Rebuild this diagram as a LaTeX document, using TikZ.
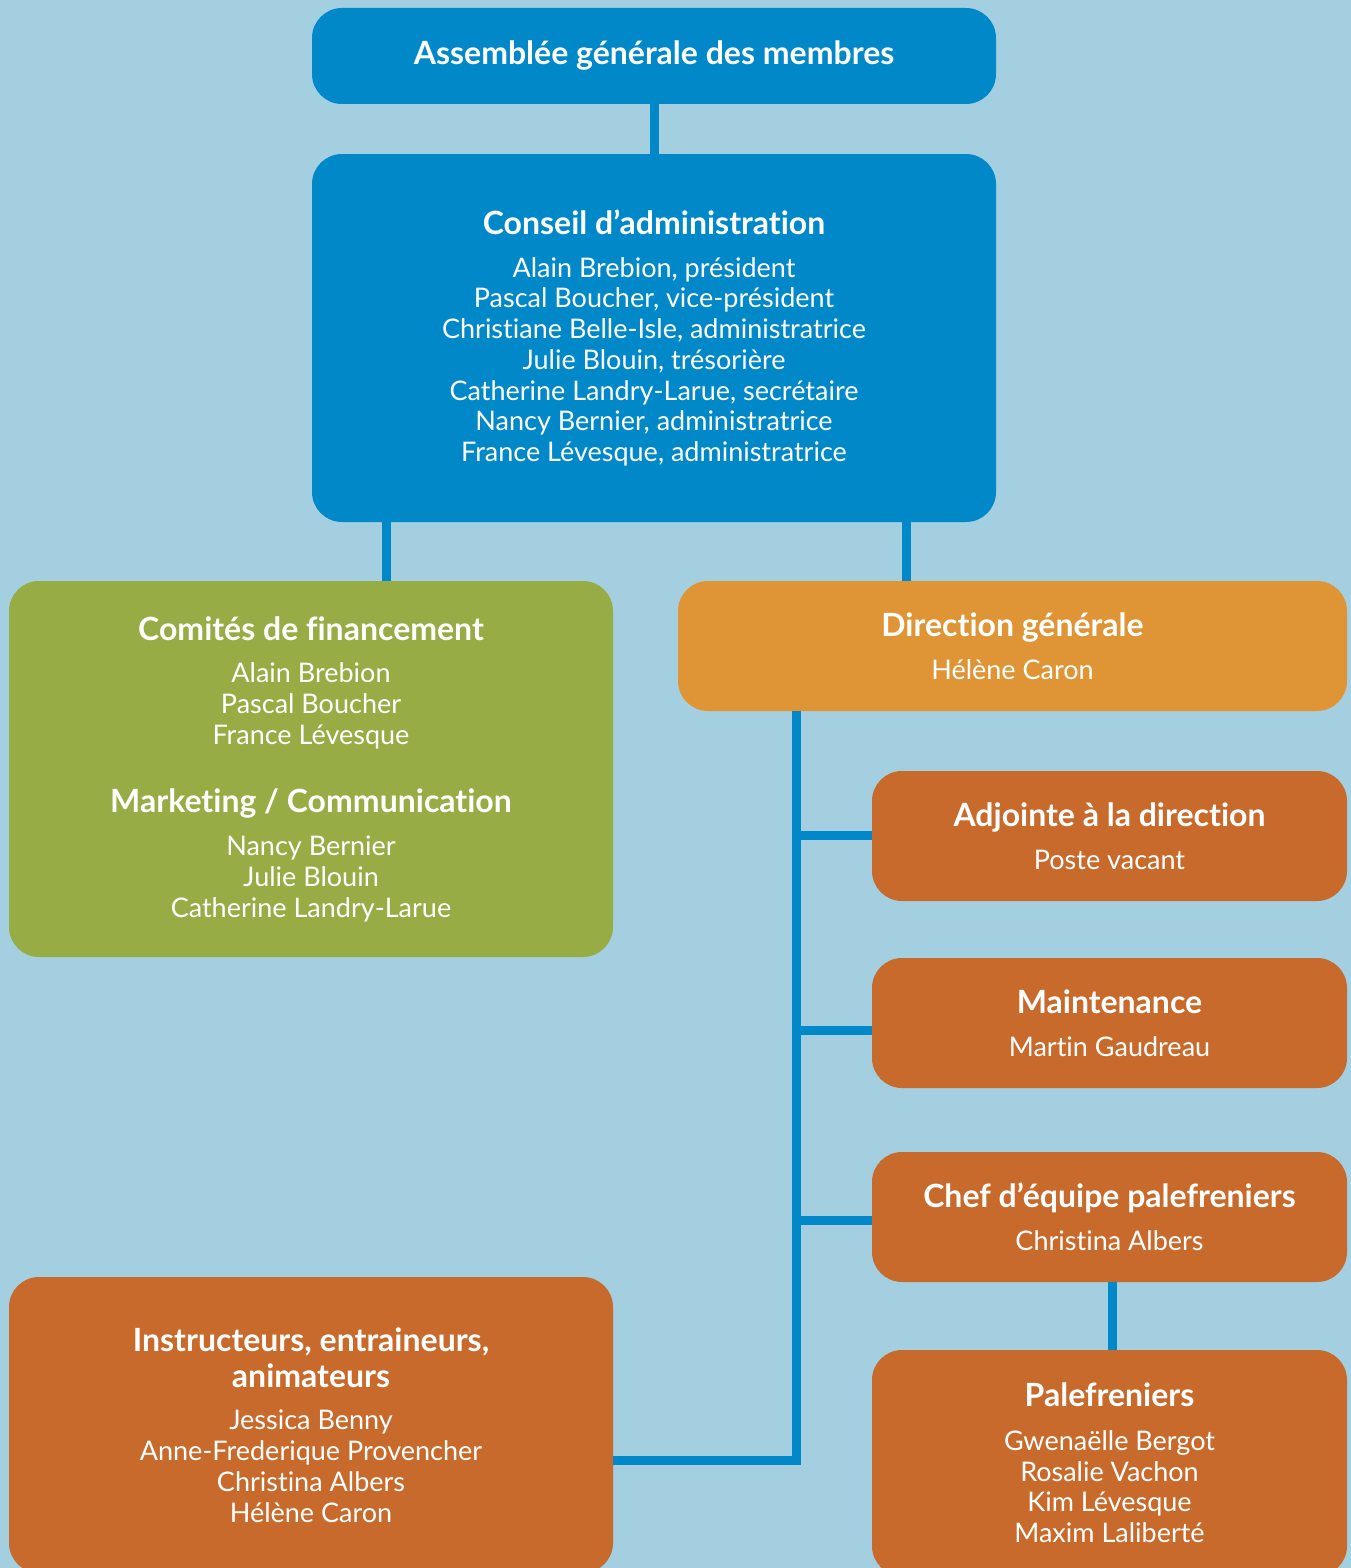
\documentclass[tikz,border=0pt]{standalone}
\usepackage{fontspec}
\setmainfont{Lato}[Ligatures=NoCommon]
\definecolor{bg}{HTML}{A3CFE1}
\definecolor{cblue}{HTML}{0088C8}
\definecolor{cgreen}{HTML}{97AC45}
\definecolor{corange}{HTML}{DF9535}
\definecolor{crust}{HTML}{C86A2B}
\newcommand\namefont{\fontsize{27}{30.7}\selectfont}
\newcommand\ttl[1]{{\fontsize{32}{36}\selectfont\bfseries #1}}
\begin{document}
\begin{tikzpicture}[x=1pt,y=-1pt,
  box/.style={rounded corners=30pt, inner sep=0pt, text=white, align=center, font=\namefont},
  conn/.style={draw=cblue, line width=9pt}]
\useasboundingbox (0,0) rectangle (1351,1568);
\clip (0,0) rectangle (1351,1568);
\fill[bg] (0,0) rectangle (1351,1568);

\node[box, fill=cblue, minimum width=684pt, minimum height=96pt] (asm) at (654,56) {\ttl{Assemblée générale des membres}};
\node[box, fill=cblue, minimum width=684pt, minimum height=368pt] (ca) at (654,338)
 {\ttl{Conseil d’administration}\\[12pt]
  Alain Brebion, président\\
  Pascal Boucher, vice-président\\
  Christiane Belle-Isle, administratrice\\
  Julie Blouin, trésorière\\
  Catherine Landry-Larue, secrétaire\\
  Nancy Bernier, administratrice\\
  France Lévesque, administratrice};
\node[box, fill=cgreen, minimum width=604pt, minimum height=376pt] (com) at (311,769)
 {\ttl{Comités de financement}\\[12pt]
  Alain Brebion\\
  Pascal Boucher\\
  France Lévesque\\[38pt]
  \ttl{Marketing / Communication}\\[12pt]
  Nancy Bernier\\
  Julie Blouin\\
  Catherine Landry-Larue};
\node[box, fill=corange, minimum width=669pt, minimum height=130pt] (dg) at (1012.5,646)
 {\ttl{Direction générale}\\[12pt]Hélène Caron};
\node[box, fill=crust, minimum width=475pt, minimum height=130pt] (adj) at (1109.5,836)
 {\ttl{Adjointe à la direction}\\[12pt]Poste vacant};
\node[box, fill=crust, minimum width=475pt, minimum height=130pt] (mnt) at (1109.5,1023)
 {\ttl{Maintenance}\\[12pt]Martin Gaudreau};
\node[box, fill=crust, minimum width=475pt, minimum height=130pt] (chef) at (1109.5,1217)
 {\ttl{Chef d’équipe palefreniers}\\[12pt]Christina Albers};
\node[box, fill=crust, minimum width=475pt, minimum height=226pt] (pal) at (1109.5,1463)
 {\ttl{Palefreniers}\\[13pt]
  Gwenaëlle Bergot\\
  Rosalie Vachon\\
  Kim Lévesque\\
  Maxim Laliberté};
\node[box, fill=crust, minimum width=604pt, minimum height=296pt] (ins) at (311,1425)
 {\ttl{Instructeurs, entraineurs,}\\[5pt]
  \ttl{animateurs}\\[12pt]
  Jessica Benny\\
  Anne-Frederique Provencher\\
  Christina Albers\\
  Hélène Caron};

\coordinate (tx) at (796,0);
\coordinate (jins) at (613,1460);
\draw[conn] (asm.south) -- (ca.north);
\draw[conn] (ca.south -| 386,0) -- (com.north -| 386,0);
\draw[conn] (ca.south -| 906,0) -- (dg.north -| 906,0);
\draw[conn] (tx |- dg.south) -- (tx |- jins) -- (ins.east |- jins);
\draw[conn] (tx |- 0,835) -- (adj.west |- 0,835);
\draw[conn] (tx |- 0,1030) -- (mnt.west |- 0,1030);
\draw[conn] (tx |- 0,1220) -- (chef.west |- 0,1220);
\draw[conn] (chef.south -| 1112,0) -- (pal.north -| 1112,0);
\end{tikzpicture}
\end{document}
